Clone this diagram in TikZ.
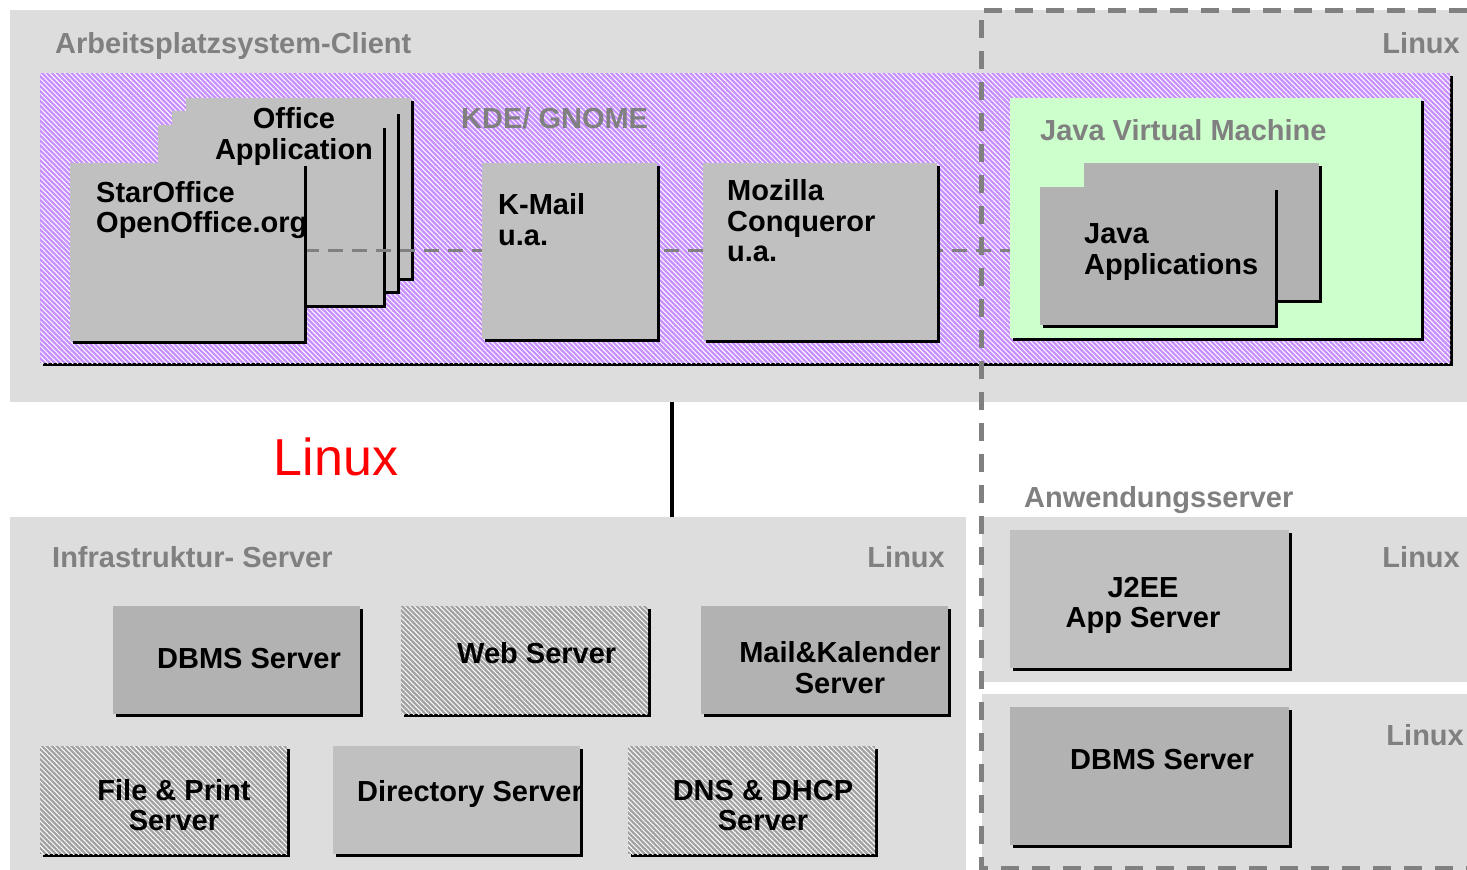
\documentclass[tikz,border=0pt]{standalone}
\usepackage{fontspec}
\setmainfont{Liberation Sans}
\usetikzlibrary{shadows,patterns.meta}
\definecolor{panel}{HTML}{DDDDDD}
\definecolor{lilac}{HTML}{C890FF}
\definecolor{jvm}{HTML}{CCFFCC}
\definecolor{boxa}{HTML}{C0C0C0}
\definecolor{boxb}{HTML}{B2B2B2}
\definecolor{hatchgray}{HTML}{A2A2A2}
\definecolor{labelgray}{HTML}{808080}
\pgfdeclarelayer{bg}
\pgfdeclarelayer{stack}
\pgfdeclarelayer{mid}
\pgfsetlayers{bg,stack,mid,main}
\tikzset{
  panelbox/.style={fill=panel, draw=none, inner sep=0, anchor=north west},
  shad/.style={drop shadow={shadow xshift=3pt, shadow yshift=-3pt, opacity=1, fill=black}},
  appbox/.style={shad, fill=#1, draw=none, inner sep=0, anchor=north west},
  hatchbox/.style={shad, preaction={fill=#1}, pattern={Lines[angle=-45,distance=3.5pt,line width=0.95pt]}, pattern color=white, draw=none, inner sep=0, anchor=north west},
  btxt/.style={font=\fontsize{29}{30.5}\selectfont\bfseries, inner sep=0, execute at begin node=\strut},
  gtxt/.style={btxt, text=labelgray},
  conn/.style={draw=labelgray, line width=3pt, dash pattern=on 15pt off 9pt},
  border/.style={draw=labelgray, line width=5pt, dash pattern=on 18pt off 13pt},
  link/.style={draw=black, line width=4pt},
}
\begin{document}
\begin{tikzpicture}[x=1pt,y=-1pt]
\useasboundingbox (0,0) rectangle (1467,870);
% ---------- panels ----------
\begin{pgfonlayer}{bg}
\fill[white] (0,0) rectangle (1467,870);
\node[panelbox, minimum width=1457pt, minimum height=392pt] (client) at (10,10) {};
\node[panelbox, minimum width=956pt, minimum height=353pt] (infra) at (10,517) {};
\node[panelbox, minimum width=485pt, minimum height=165pt] (appsrv) at (982,517) {};
\node[panelbox, minimum width=485pt, minimum height=176pt] (dbsrv) at (982,694) {};
\node[hatchbox=lilac, minimum width=1410pt, minimum height=290pt] (desk) at (40,73) {};
\end{pgfonlayer}
% ---------- office stack (under the dashed link) ----------
\begin{pgfonlayer}{stack}
\node[appbox=boxa, minimum width=225pt, minimum height=180pt] (off3) at (186,98) {};
\node[appbox=boxa, minimum width=225pt, minimum height=180pt] (off2) at (172,111) {};
\node[appbox=boxa, minimum width=225pt, minimum height=180pt] (off1) at (158,125) {};
\end{pgfonlayer}
% ---------- client boxes ----------
\node[appbox=jvm, minimum width=411pt, minimum height=240pt] (jvm) at (1010,98) {};
\node[appbox=boxa, minimum width=234pt, minimum height=178pt] (star) at (70,163) {};
\node[appbox=boxa, minimum width=175pt, minimum height=176pt] (kmail) at (482,163) {};
\node[appbox=boxa, minimum width=234pt, minimum height=177pt] (moz) at (703,163) {};
\node[appbox=boxb, minimum width=235pt, minimum height=137pt] (japps2) at (1084,163) {};
\node[appbox=boxb, minimum width=235pt, minimum height=138pt] (japps) at (1040,187) {};
% ---------- server boxes ----------
\node[appbox=boxb, minimum width=247pt, minimum height=108pt] (dbms1) at (113,606) {};
\node[hatchbox=hatchgray, minimum width=247pt, minimum height=108pt] (web) at (401,606) {};
\node[appbox=boxb, minimum width=247pt, minimum height=108pt] (mail) at (701,606) {};
\node[hatchbox=hatchgray, minimum width=247pt, minimum height=108pt] (file) at (40,746) {};
\node[appbox=boxa, minimum width=247pt, minimum height=108pt] (dir) at (333,746) {};
\node[hatchbox=hatchgray, minimum width=247pt, minimum height=108pt] (dns) at (628,746) {};
\node[appbox=boxa, minimum width=279pt, minimum height=138pt] (j2ee) at (1010,530) {};
\node[appbox=boxb, minimum width=279pt, minimum height=138pt] (dbms2) at (1010,707) {};
% ---------- connectors ----------
\coordinate (dl) at (0,250);
\begin{pgfonlayer}{mid}
\draw[conn] (star.east |- dl) -- (japps.west |- dl);
\end{pgfonlayer}
\coordinate (lnk) at (672,460);
\draw[link] (client.south -| lnk) -- (infra.north -| lnk);
% ---------- texts ----------
\node[gtxt, anchor=north west] (tclient) at (55,31.6) {Arbeitsplatzsystem-Client};
\node[gtxt, anchor=north east] (tlin1) at (1460,31.6) {Linux};
\node[gtxt, anchor=north west] (tkde) at (461,106.6) {KDE/ GNOME};
\node[btxt, anchor=north, align=center] (toff) at (294,107.6) {Office\\Application};
\node[btxt, anchor=north west, align=left] (tstar) at (96,181) {StarOffice\\OpenOffice.org};
\node[btxt, anchor=north west, align=left] (tkmail) at (498,193.6) {K-Mail\\u.a.};
\node[btxt, anchor=north west, align=left] (tmoz) at (727,179.6) {Mozilla\\Conqueror\\u.a.};
\node[gtxt, anchor=north west] (tjvm) at (1040,119) {Java Virtual Machine};
\node[btxt, anchor=north west, align=left] (tjapps) at (1084,223.6) {Java\\Applications};
\node[font=\fontsize{52}{60}\selectfont, text=red, inner sep=0, anchor=base] (tred) at (336,475) {Linux};
\node[gtxt, anchor=north west] (tinfra) at (52,545.6) {Infrastruktur- Server};
\node[gtxt, anchor=north east] (tlin2) at (945,545.6) {Linux};
\node[gtxt, anchor=north west] (tanw) at (1024,486) {Anwendungsserver};
\node[gtxt, anchor=north east] (tlin3) at (1460,545.6) {Linux};
\node[gtxt, anchor=north east] (tlin4) at (1464,723.6) {Linux};
\node[btxt, anchor=north west] (tdbms1) at (157,646.6) {DBMS Server};
\node[btxt, anchor=north west] (tweb) at (457,641.6) {Web Server};
\node[btxt, anchor=north, align=center] (tmail) at (840,641.6) {Mail\&Kalender\\Server};
\node[btxt, anchor=north, align=center] (tfile) at (174,779) {File \& Print\\Server};
\node[btxt, anchor=north west] (tdir) at (357,779.6) {Directory Server};
\node[btxt, anchor=north, align=center] (tdns) at (763,780) {DNS \& DHCP\\Server};
\node[btxt, anchor=north, align=center] (tj2ee) at (1143,576.6) {J2EE\\App Server};
\node[btxt, anchor=north west] (tdbms2) at (1070,748) {DBMS Server};
% ---------- dashed border ----------
\draw[border] (1467,10) -- (981,10) -- (981,868) -- (1467,868);
\end{tikzpicture}
\end{document}
